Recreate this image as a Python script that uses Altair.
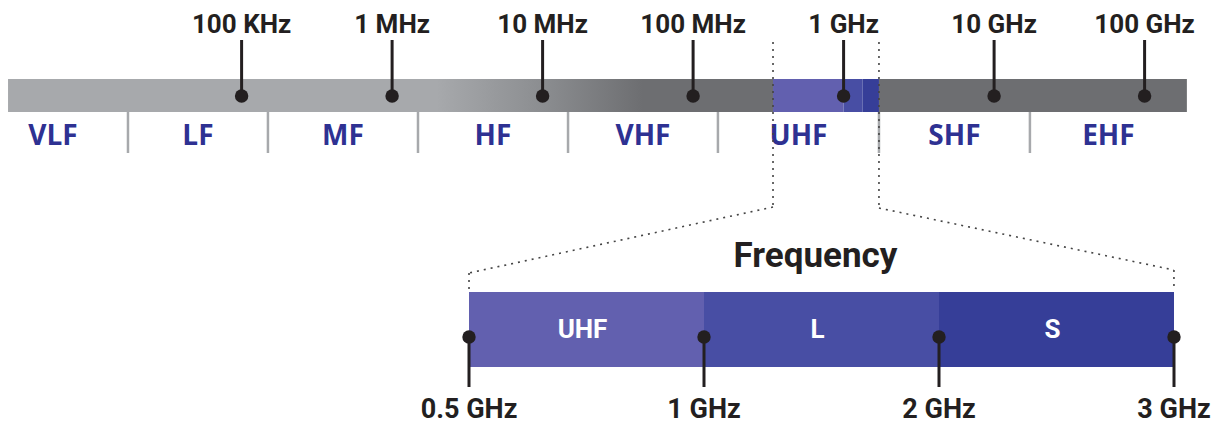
import altair as alt
import pandas as pd

# ---- data (top spectrum, in log10(Hz) units as drawn) ----
tick_labels = ["100 KHz", "1 MHz", "10 MHz", "100 MHz", "1 GHz", "10 GHz", "100 GHz"]
tick_log10_hz = [5, 6, 7, 8, 9, 10, 11]
band_names = ["VLF", "LF", "MF", "HF", "VHF", "UHF", "SHF", "EHF"]
band_edges = [3.249, 4.245, 5.175, 6.172, 7.169, 8.165, 9.235, 10.238, 11.281]
bar_span = [3.448, 11.281]

# ---- zoomed range ----
zoom_names = ["UHF", "L", "S"]
zoom_colors = ["#6260af", "#484ea4", "#363e98"]
zoom_edges_top = [8.531, 9.0, 9.125, 9.235]
zoom_tick_labels = ["0.5 GHz", "1 GHz", "2 GHz", "3 GHz"]
zoom_index = [0, 1, 2, 3]

W, H = 1209, 416
TOP = alt.Scale(domain=[3.4478, 11.4811])
BOT = alt.Scale(domain=[0, 3], range=[461, 1166])
INK = "#231f20"
GRAY_L = "#a7a9ac"
GRAY_D = "#6d6e71"
BLUE_TXT = "#2e3192"

layers = []

# gradient grey bar (left part up to zoom start)
grad_df = pd.DataFrame({"x": [bar_span[0]], "x2": [zoom_edges_top[0]]})
layers.append(
    alt.Chart(grad_df).mark_rect(
        color=alt.Gradient(
            gradient="linear",
            stops=[
                alt.GradientStop(color=GRAY_L, offset=0),
                alt.GradientStop(color=GRAY_L, offset=0.56),
                alt.GradientStop(color="#8b8d90", offset=0.70),
                alt.GradientStop(color=GRAY_D, offset=0.83),
                alt.GradientStop(color=GRAY_D, offset=1),
            ],
            x1=0, x2=1, y1=0, y2=0,
        )
    ).encode(x=alt.X("x:Q", scale=TOP, axis=None), x2="x2:Q",
             y=alt.value(71), y2=alt.value(104))
)

# dark grey bar (right part)
dark_df = pd.DataFrame({"x": [zoom_edges_top[-1]], "x2": [bar_span[1]]})
layers.append(
    alt.Chart(dark_df).mark_rect(color=GRAY_D).encode(
        x=alt.X("x:Q", scale=TOP, axis=None), x2="x2:Q",
        y=alt.value(71), y2=alt.value(104))
)

color_scale = alt.Scale(domain=zoom_names, range=zoom_colors)

# zoom sub-bands on top bar
ztop_df = pd.DataFrame({"name": zoom_names,
                        "x": zoom_edges_top[:-1], "x2": zoom_edges_top[1:]})
layers.append(
    alt.Chart(ztop_df).mark_rect().encode(
        x=alt.X("x:Q", scale=TOP, axis=None), x2="x2:Q",
        y=alt.value(71), y2=alt.value(104),
        color=alt.Color("name:N", scale=color_scale, legend=None))
)

# band dividers
div_df = pd.DataFrame({"x": band_edges[1:-1]})
layers.append(
    alt.Chart(div_df).mark_rule(color=GRAY_L, strokeWidth=2.5).encode(
        x=alt.X("x:Q", scale=TOP, axis=None),
        y=alt.value(104), y2=alt.value(145))
)

# band labels
band_df = pd.DataFrame({
    "name": band_names,
    "mid": [(a + b) / 2 for a, b in zip(band_edges[:-1], band_edges[1:])],
})
layers.append(
    alt.Chart(band_df).mark_text(font="Open Sans", fontWeight="bold", fontSize=28,
                                 color=BLUE_TXT, baseline="alphabetic", align="center").encode(
        x=alt.X("mid:Q", scale=TOP, axis=None), y=alt.value(137), text="name:N")
)

# top ticks
tick_df = pd.DataFrame({"x": tick_log10_hz, "label": tick_labels})
layers.append(
    alt.Chart(tick_df).mark_rule(color=INK, strokeWidth=3).encode(
        x=alt.X("x:Q", scale=TOP, axis=None), y=alt.value(32), y2=alt.value(88))
)
layers.append(
    alt.Chart(tick_df).mark_circle(color=INK, size=180, opacity=1).encode(
        x=alt.X("x:Q", scale=TOP, axis=None), y=alt.value(88))
)
layers.append(
    alt.Chart(tick_df).mark_text(font="Roboto", fontWeight="bold", fontSize=26,
                                 color=INK, baseline="alphabetic", align="center").encode(
        x=alt.X("x:Q", scale=TOP, axis=None), y=alt.value(25), text="label:N")
)

# bottom zoom bar
zb_df = pd.DataFrame({"name": zoom_names, "i0": zoom_index[:-1], "i1": zoom_index[1:],
                      "mid": [(a + b) / 2 for a, b in zip(zoom_index[:-1], zoom_index[1:])]})
layers.append(
    alt.Chart(zb_df).mark_rect().encode(
        x=alt.X("i0:Q", scale=BOT, axis=None), x2="i1:Q",
        y=alt.value(284), y2=alt.value(359),
        color=alt.Color("name:N", scale=color_scale, legend=None))
)
layers.append(
    alt.Chart(zb_df).mark_text(font="Roboto", fontWeight="bold", fontSize=26,
                               color="white", baseline="alphabetic", align="center", dx=-4).encode(
        x=alt.X("mid:Q", scale=BOT, axis=None), y=alt.value(330), text="name:N")
)

zt_df = pd.DataFrame({"i": zoom_index, "label": zoom_tick_labels})
layers.append(
    alt.Chart(zt_df).mark_rule(color=INK, strokeWidth=3).encode(
        x=alt.X("i:Q", scale=BOT, axis=None), y=alt.value(329), y2=alt.value(379))
)
layers.append(
    alt.Chart(zt_df).mark_circle(color=INK, size=180, opacity=1).encode(
        x=alt.X("i:Q", scale=BOT, axis=None), y=alt.value(329))
)
layers.append(
    alt.Chart(zt_df).mark_text(font="Roboto", fontWeight="bold", fontSize=27,
                               color=INK, baseline="alphabetic", align="center").encode(
        x=alt.X("i:Q", scale=BOT, axis=None), y=alt.value(410), text="label:N")
)

# title of zoom
title_df = pd.DataFrame({"i": [(zoom_index[0] + zoom_index[-1]) / 2], "t": ["Frequency"]})
layers.append(
    alt.Chart(title_df).mark_text(font="Roboto", fontWeight="bold", fontSize=35,
                                  color=INK, baseline="alphabetic", align="center", dx=-6).encode(
        x=alt.X("i:Q", scale=BOT, axis=None), y=alt.value(259), text="t:N")
)

# dotted connectors (top-scale positions of zoom start/end and bottom bar corners)
left_top, right_top = zoom_edges_top[0], zoom_edges_top[-1]
left_bot, right_bot = 6.511, 11.195


def seg(a, b, y1, y2):
    d = pd.DataFrame({"a": [a], "b": [b]})
    return alt.Chart(d).mark_rule(color="#444444", strokeWidth=1.6, strokeDash=[2, 5]).encode(
        x=alt.X("a:Q", scale=TOP, axis=None), x2="b:Q",
        y=alt.value(y1), y2=alt.value(y2))


layers += [
    seg(left_top, left_top, 34, 199),
    seg(left_top, left_bot, 199, 265),
    seg(left_bot, left_bot, 265, 282),
    seg(right_top, right_top, 34, 200),
    seg(right_top, right_bot, 200, 262),
    seg(right_bot, right_bot, 262, 282),
]

chart = alt.layer(*layers).resolve_scale(x="independent").properties(
    width=W, height=H, padding=0, autosize="none"
).configure_view(stroke=None)

chart.save("out.html", embed_options={"renderer": "svg", "actions": False})
